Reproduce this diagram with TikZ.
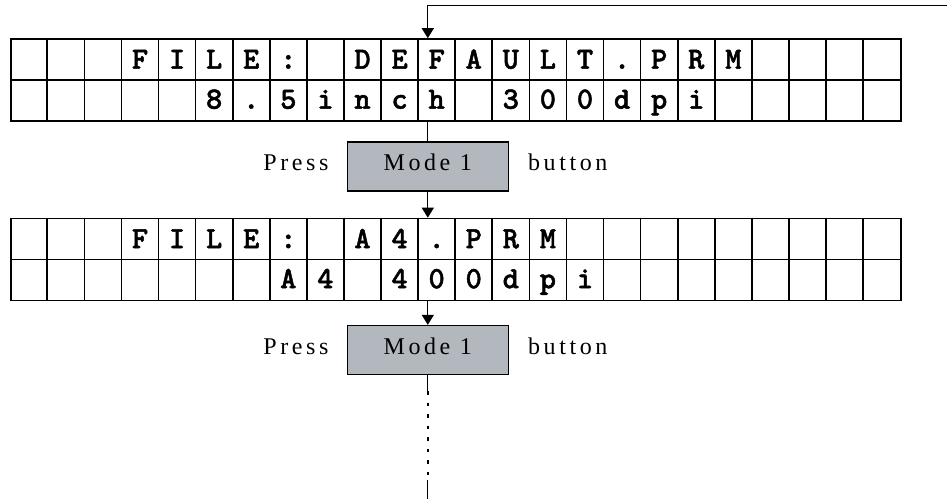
\documentclass[tikz,border=0pt]{standalone}
\usepackage{fontspec}
\setmainfont{Liberation Serif}[LetterSpace=15]
\newfontfamily\lcdfont{lmmonolt10-bold.otf}[FakeBold=1.5]
\usetikzlibrary{positioning,calc,arrows.meta}

\definecolor{btngray}{RGB}{179,183,190}

\begin{document}
\begin{tikzpicture}[
  x=1pt, y=-1pt,
  lcd/.style={rectangle, draw, line width=1.6pt, minimum width=890pt,
              minimum height=82pt, inner sep=0pt},
  grid/.style={line width=1.6pt},
  cell/.style={anchor=base, inner sep=0pt,
               font=\fontsize{31}{31}\lcdfont},
  btn/.style={rectangle, draw, line width=1.3pt, fill=btngray,
              minimum width=161pt, minimum height=49pt, text depth=8pt,
              font=\fontsize{24}{28}\selectfont},
  lbl/.style={font=\fontsize{24}{28}\selectfont, inner sep=0pt},
  arr/.style={-{Triangle[length=10pt,width=12pt]}, line width=1.2pt},
  wire/.style={line width=1.2pt}
]
\useasboundingbox (0,0) rectangle (949,499);

\node[lcd] (lcdA) at (456,80)    {};
\node[btn] (btnA) at (427.8,166.5) {Mode 1};
\node[lcd] (lcdB) at (456,259.5) {};
\node[btn] (btnB) at (427.8,350)  {Mode 1};

\node[lbl, anchor=base east] (pressA)  at ([xshift=-18pt]btnA.base west) {Press};
\node[lbl, anchor=base west] (buttonA) at ([xshift=19pt]btnA.base east)  {button};
\node[lbl, anchor=base east] (pressB)  at ([xshift=-18pt]btnB.base west) {Press};
\node[lbl, anchor=base west] (buttonB) at ([xshift=19pt]btnB.base east)  {button};

\foreach \n in {lcdA,lcdB} {
  \draw[grid] (\n.west) -- (\n.east);
  \foreach \c in {1,...,23}
    \draw[grid] ($(\n.north west)+(\c*37.083,0)$) -- ($(\n.south west)+(\c*37.083,0)$);
}

\foreach \c/\t in {4/F,5/I,6/L,7/E,8/:,10/D,11/E,12/F,13/A,14/U,15/L,16/T,17/.,18/P,19/R,20/M}
  \node[cell] at ($(lcdA.north west)+(\c*37.083-18.54,30.5)$) {\t};
\foreach \c/\t in {6/8,7/.,8/5,9/i,10/n,11/c,12/h,14/3,15/0,16/0,17/d,18/p,19/i}
  \node[cell] at ($(lcdA.north west)+(\c*37.083-18.54,70.5)$) {\t};
\foreach \c/\t in {4/F,5/I,6/L,7/E,8/:,10/A,11/4,12/.,13/P,14/R,15/M}
  \node[cell] at ($(lcdB.north west)+(\c*37.083-18.54,30.5)$) {\t};
\foreach \c/\t in {8/A,9/4,11/4,12/0,13/0,14/d,15/p,16/i}
  \node[cell] at ($(lcdB.north west)+(\c*37.083-18.54,70.5)$) {\t};

\coordinate (entry) at (947,5.5);
\coordinate (dotA)  at ([yshift=-16pt]btnB.south);
\coordinate (dotB)  at (btnB.south |- 0,480);
\coordinate (exit)  at (btnB.south |- 0,499);

\draw[arr]  (entry) -| (btnA.north |- lcdA.north);
\draw[wire] (btnA.north |- lcdA.south) -- (btnA.north);
\draw[arr]  (btnA.south) -- (btnA.south |- lcdB.north);
\draw[arr]  (btnB.north |- lcdB.south) -- (btnB.north);
\draw[wire] (btnB.south) -- (dotA);
\draw[wire, line width=1.8pt, dash pattern=on 3.5pt off 8pt] (dotA) -- (dotB);
\draw[wire] (dotB) -- (exit);

\end{tikzpicture}
\end{document}
